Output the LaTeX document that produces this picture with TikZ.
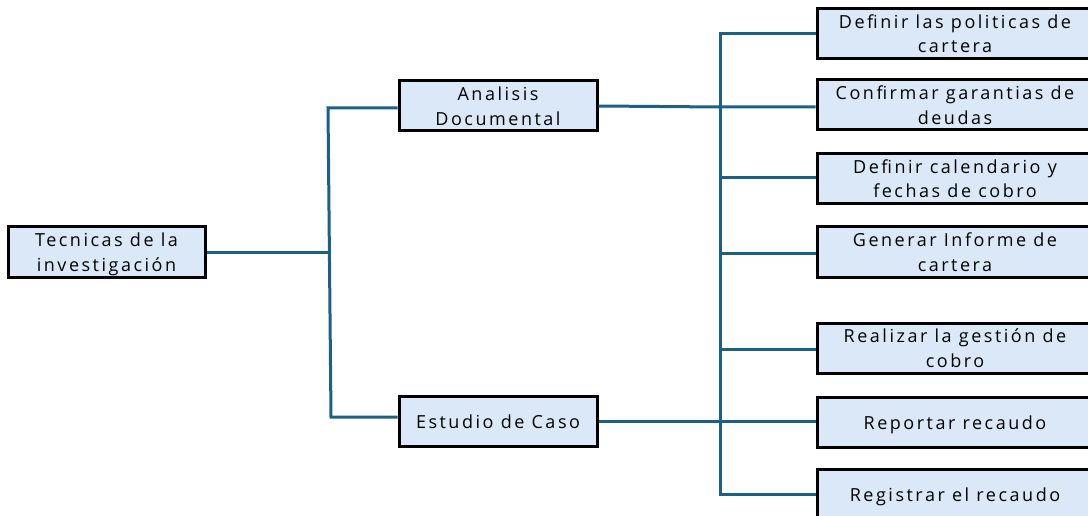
\documentclass[tikz,border=0pt]{standalone}
\usepackage{fontspec}
\setmainfont[LetterSpace=14]{Open Sans}
\definecolor{boxfill}{RGB}{218,232,247}
\definecolor{linkblue}{RGB}{27,97,133}
% struts: \hs fixes the height of a first line, \ds the depth of a last line
\newcommand\hs{\rule{0pt}{19pt}}
\newcommand\ds{\rule[-5pt]{0pt}{5pt}}
\begin{document}
\begin{tikzpicture}[x=1pt,y=-1pt,
  box/.style={draw=black,line width=3pt,fill=boxfill,align=center,
    inner sep=0pt,font=\fontsize{18}{24.5}\selectfont},
  link/.style={draw=linkblue,line width=3pt}]
\useasboundingbox (0,0) rectangle (1088,516);
\clip (0,0) rectangle (1088,516);

% root and second level
\node[box,minimum width=197pt,minimum height=50pt] (root) at (106.5,252) {\hs Tecnicas de la\\investigación\ds};
\node[box,minimum width=198pt,minimum height=50pt] (doc) at (498,106) {\hs Analisis\\Documental\ds};
\node[box,minimum width=198pt,minimum height=50pt] (caso) at (498,421) {\hs Estudio de Caso\ds};

% activities (boxes run past the right edge)
\begin{scope}[every node/.style={box,minimum width=276pt,minimum height=50pt}]
\node (t1) at (955,33.5) {\hs Definir las politicas de\\cartera\ds};
\node (t2) at (955,105) {\hs Confirmar garantias de\\deudas\ds};
\node (t3) at (955,178.5) {\hs Definir calendario y\\fechas de cobro\ds};
\node (t4) at (955,252) {\hs Generar Informe de\\cartera\ds};
\node (t5) at (955,348) {\hs Realizar la gestión de\\cobro\ds};
\node (t6) at (955,422) {\hs Reportar recaudo\ds};
\node (t7) at (955,494) {\hs Registrar el recaudo\ds};
\end{scope}

% left trunk
\coordinate (lt) at (328,108);
\coordinate (lm) at (329.5,252);
\coordinate (lb) at (331,417);
\draw[link] (doc.west |- lt) -- (lt) -- (lb) -- (caso.west |- lb);
\draw[link] (root.east) -- (lm);

% right trunk
\coordinate (rt) at (720,34);
\coordinate (rb) at (720,494);
\draw[link] (t1.west |- rt) -- (rt) -- (rb) -- (t7.west |- rb);
\draw[link] (doc.east) -- (720,107) -- (t2.west |- 720,107);
\draw[link] (caso.east) -- (720,421) -- (t6.west |- 720,421);
\foreach \t/\yy in {t3/178, t4/253, t5/349}
  \draw[link] (720,\yy) -- (\t.west |- 720,\yy);
\end{tikzpicture}
\end{document}
